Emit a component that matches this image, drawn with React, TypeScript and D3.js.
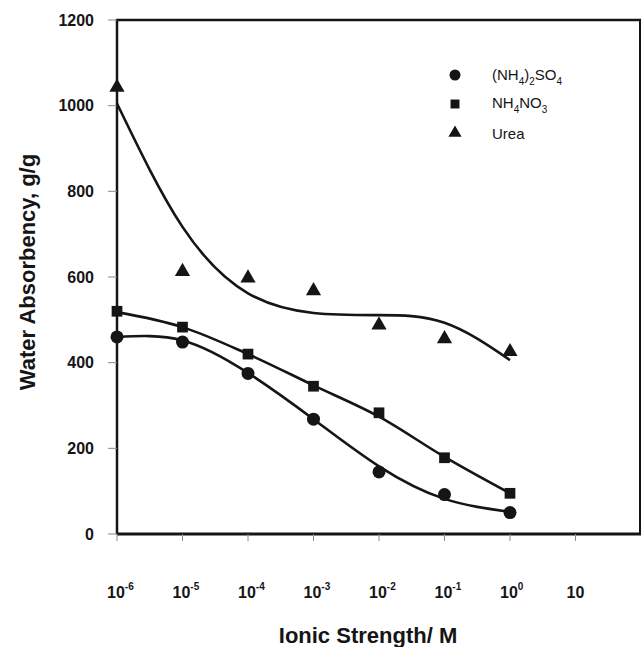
import React from 'react';
import * as d3 from 'd3';

// ionic strength (M) at each measured point
const ionicStrength = [1e-6, 1e-5, 1e-4, 1e-3, 1e-2, 1e-1, 1];
const tickExponents = [-6, -5, -4, -3, -2, -1, 0];
const yTicks = [0, 200, 400, 600, 800, 1000, 1200];

// measured water absorbency, g/g
const sulfate = [460, 448, 375, 268, 145, 92, 50];
const nitrate = [520, 483, 420, 345, 283, 178, 95];
const urea = [1045, 615, 600, 570, 490, 458, 428];

// fitted curves drawn through each series
const sulfateFit = [460, 452, 376, 268, 158, 82, 52];
const nitrateFit = [518, 483, 420, 347, 274, 180, 95];
const ureaFit = [1005, 717, 562, 516, 511, 493, 406];

const W = 641;
const H = 647;
const left = 117;
const right = 641;
const top = 20;
const bottom = 534;
const ink = '#151515';
const font = 'Arial, "Liberation Sans", sans-serif';

const App = () => {
  const x = d3.scaleLog().domain([1e-6, 1e2]).range([left, right]);
  const y = d3.scaleLinear().domain([0, 1200]).range([bottom, top]);

  const line = d3.line<number>()
    .x((_, i) => x(ionicStrength[i]))
    .y(d => y(d))
    .curve(d3.curveNatural);
  const straightish = d3.line<number>()
    .x((_, i) => x(ionicStrength[i]))
    .y(d => y(d))
    .curve(d3.curveMonotoneX);

  const tri = d3.symbol().type(d3.symbolTriangle).size(100)();
  const sq = d3.symbol().type(d3.symbolSquare).size(115)();

  return (
    <svg width={W} height={H} style={{ position: 'absolute', left: 0, top: 0, background: '#fff' }}>
      {/* frame */}
      <path d={`M${left},${bottom}V${top}H${right}`} fill="none" stroke={ink} strokeWidth={2.5} />
      <line x1={left} x2={right} y1={bottom} y2={bottom} stroke={ink} strokeWidth={3} />
      <line x1={right - 1} x2={right - 1} y1={top} y2={bottom} stroke={ink} strokeWidth={2} />

      {/* y ticks */}
      {yTicks.map(t => (
        <g key={t}>
          <line x1={left - 9} x2={left} y1={y(t)} y2={y(t)} stroke="#888" strokeWidth={1} />
          <text x={left - 23} y={y(t)} dy="0.35em" textAnchor="end" fontFamily={font}
            fontSize={16} fontWeight="bold" fill={ink}>{t}</text>
        </g>
      ))}

      {/* x ticks */}
      {[...tickExponents, 1].map(e => {
        const px = x(Math.pow(10, e));
        return (
          <g key={e}>
            <line x1={px} x2={px} y1={bottom} y2={bottom + 7} stroke="#888" strokeWidth={1} />
            {e === 1 ? (
              <text x={px} y={bottom + 64} textAnchor="middle" fontFamily={font} fontSize={16}
                fontWeight="bold" fill={ink}>10</text>
            ) : (
              <text y={bottom + 64} textAnchor="start" fontFamily={font} fontSize={16}
                fontWeight="bold" fill={ink}>
                <tspan x={px - 10}>10</tspan>
                <tspan dy={-8} fontSize={10}>{e}</tspan>
              </text>
            )}
          </g>
        );
      })}

      {/* fitted curves */}
      <path d={line(ureaFit) || ''} fill="none" stroke={ink} strokeWidth={2.6} />
      <path d={straightish(nitrateFit) || ''} fill="none" stroke={ink} strokeWidth={2.6} />
      <path d={line(sulfateFit) || ''} fill="none" stroke={ink} strokeWidth={2.6} />

      {/* markers */}
      {sulfate.map((v, i) => (
        <circle key={'c' + i} cx={x(ionicStrength[i])} cy={y(v)} r={6.5} fill={ink} />
      ))}
      {nitrate.map((v, i) => (
        <path key={'s' + i} d={sq || ''} transform={`translate(${x(ionicStrength[i])},${y(v)})`} fill={ink} />
      ))}
      {urea.map((v, i) => (
        <path key={'t' + i} d={tri || ''} transform={`translate(${x(ionicStrength[i])},${y(v) + 1})`} fill={ink} />
      ))}

      {/* legend */}
      <g fontFamily={font} fontSize={15} fill={ink}>
        <circle cx={455} cy={75} r={5.5} fill={ink} />
        <text x={492} y={80}>
          (NH<tspan dy={5} fontSize={10}>4</tspan><tspan dy={-5}>)</tspan>
          <tspan dy={5} fontSize={10}>2</tspan><tspan dy={-5}>SO</tspan>
          <tspan dy={5} fontSize={10}>4</tspan>
        </text>
        <path d={d3.symbol().type(d3.symbolSquare).size(80)() || ''} transform="translate(455,104)" fill={ink} />
        <text x={492} y={108}>
          NH<tspan dy={5} fontSize={10}>4</tspan><tspan dy={-5}>NO</tspan>
          <tspan dy={5} fontSize={10}>3</tspan>
        </text>
        <path d={d3.symbol().type(d3.symbolTriangle).size(75)() || ''} transform="translate(455,133)" fill={ink} />
        <text x={492} y={139}>Urea</text>
      </g>

      {/* axis titles */}
      <text x={368} y={643} textAnchor="middle" fontFamily={font} fontSize={22} fontWeight="bold" fill={ink}>
        Ionic Strength/ M
      </text>
      <text transform={`translate(35,272) rotate(-90)`} textAnchor="middle"
        fontFamily={font} fontSize={22} fontWeight="bold" fill={ink}>
        Water Absorbency, g/g
      </text>
    </svg>
  );
};

export default App;
